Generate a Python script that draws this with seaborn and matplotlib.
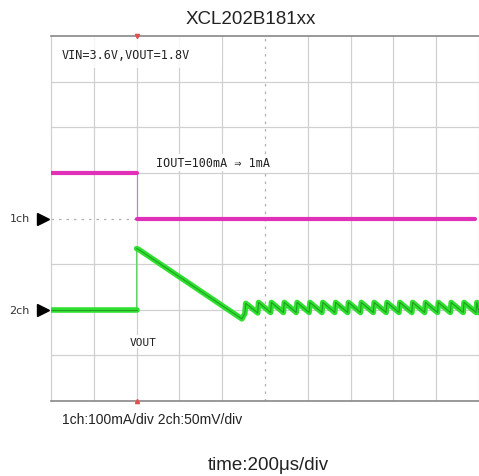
import numpy as np
import pandas as pd
import matplotlib.pyplot as plt
import seaborn as sns

# Scope capture values, in divisions (x: 10 div, y: 8 div, 1ch ref at 0, 2ch ref at -2)
ch1_t = [0.0, 2.0, 2.0, 9.9]
ch1_v = [1.0, 1.0, 0.0, 0.0]
ch1_seg = [0, 0, 1, 1]

ch2_t = [0.0, 2.0, 2.0, 2.05, 4.46]
ch2_v = [-2.0, -2.0, -0.66, -0.68, -2.2]
ch2_seg = [0, 0, 1, 1, 1]

# ripple after the load step: jump times, trough and peak levels
ripple_t = [4.55, 4.85, 5.15, 5.45, 5.75, 6.05, 6.35, 6.65, 6.95, 7.25,
            7.55, 7.85, 8.15, 8.45, 8.75, 9.05, 9.35, 9.65, 9.95]
ripple_lo = [-2.08, -2.07, -2.06, -2.06, -2.06, -2.06, -2.06, -2.06, -2.06, -2.06,
             -2.06, -2.06, -2.06, -2.06, -2.06, -2.06, -2.06, -2.06, -2.06]
ripple_hi = [-1.86, -1.84, -1.84, -1.84, -1.84, -1.84, -1.84, -1.84, -1.84, -1.84,
             -1.84, -1.84, -1.84, -1.84, -1.84, -1.84, -1.84, -1.84, -1.84]

t2 = list(ch2_t)
v2 = list(ch2_v)
s2 = list(ch2_seg)
for i, t in enumerate(ripple_t):
    t2 += [t - 0.02, t]
    v2 += [ripple_lo[i], ripple_hi[i]]
    s2 += [1, 1]
t2.append(10.0)
v2.append(ripple_lo[-1])
s2.append(1)

df1 = pd.DataFrame({'t': ch1_t, 'v': ch1_v, 'seg': ch1_seg})
df2 = pd.DataFrame({'t': t2, 'v': v2, 'seg': s2})

sns.set_style('white')
fig = plt.figure(figsize=(4.79, 4.77), dpi=100)
ax = fig.add_axes([51 / 479, 75 / 477, 428 / 479, 365 / 477])

# grid
for x in range(1, 10):
    if x == 5:
        continue
    ax.axvline(x, color='#d0d0d0', lw=0.9, zorder=0)
for y in [-3, -2, -1, 1, 2, 3]:
    ax.axhline(y, color='#d0d0d0', lw=0.9, zorder=0)
ax.axvline(5, color='#b0b0b0', lw=0.9, ls=(0, (2, 4)), zorder=0)
ax.axhline(0, color='#b0b0b0', lw=0.9, ls=(0, (2, 4)), zorder=0)

# info box top-left
ax.add_patch(plt.Rectangle((0, 3.3), 4.0, 0.7, facecolor='white', edgecolor='none',
                           alpha=0.8, zorder=1))
ax.text(0.25, 3.6, 'VIN=3.6V,VOUT=1.8V', fontsize=8.5, family='DejaVu Sans Mono',
        va='center', ha='left', color='#222222', zorder=5)

# thin fast edges
sns.lineplot(data=df1, x='t', y='v', ax=ax, color='#e070c8', lw=0.8, sort=False,
             estimator=None, zorder=2)
sns.lineplot(data=df2, x='t', y='v', ax=ax, color='#60d060', lw=0.8, sort=False,
             estimator=None, zorder=2)
# thick traces
sns.lineplot(data=df1, x='t', y='v', units='seg', ax=ax, color='#e030b8', lw=3.0,
             sort=False, estimator=None, zorder=3)
sns.lineplot(data=df2, x='t', y='v', units='seg', ax=ax, color='#30e030', lw=4.0,
             sort=False, estimator=None, zorder=3)
sns.lineplot(data=df2, x='t', y='v', units='seg', ax=ax, color='#20a020', lw=0.8,
             sort=False, estimator=None, zorder=4)

ax.text(2.45, 1.22, 'IOUT=100mA ⇒ 1mA', fontsize=8.5, family='DejaVu Sans Mono',
        va='center', ha='left', color='#222222', zorder=5,
        bbox=dict(facecolor='white', edgecolor='none', pad=1.5))
ax.text(2.15, -2.7, 'VOUT', fontsize=8, family='DejaVu Sans Mono',
        va='center', ha='center', color='#222222', zorder=5,
        bbox=dict(facecolor='white', edgecolor='none', pad=1.0))

# trigger marks
ax.plot([2.0], [4.0], marker='v', color='#e05050', ms=3, clip_on=False, zorder=6)
ax.plot([2.0], [-4.0], marker='^', color='#e05050', ms=3, clip_on=False, zorder=6)

ax.set_xlim(0, 10)
ax.set_ylim(-4, 4)
ax.set_xticks([])
ax.set_yticks([])
ax.set_xlabel('')
ax.set_ylabel('')
for s in ['left', 'right']:
    ax.spines[s].set_color('#d0d0d0')
    ax.spines[s].set_linewidth(0.9)
for s in ['top', 'bottom']:
    ax.spines[s].set_color('#888888')
    ax.spines[s].set_linewidth(1.2)

# channel markers
for lbl, y in [('1ch', 0), ('2ch', -2)]:
    ax.text(-0.5, y, lbl, fontsize=8, va='center', ha='right', color='#333333')
    ax.plot([-0.19], [y], marker='>', color='black', ms=8, clip_on=False, zorder=6)

fig.text(251 / 479, 1 - 20 / 477, 'XCL202B181xx', ha='center', va='center',
         fontsize=13.5, family='Liberation Sans', color='#222222')
fig.text(62 / 479, 1 - 420 / 477, '1ch:100mA/div 2ch:50mV/div', ha='left', va='center',
         fontsize=10, family='Liberation Sans', color='#222222')
fig.text(268 / 479, 1 - 466 / 477, 'time:200μs/div', ha='center', va='center',
         fontsize=13.5, family='Liberation Sans', color='#222222')

fig.savefig('out.png', dpi=100)
